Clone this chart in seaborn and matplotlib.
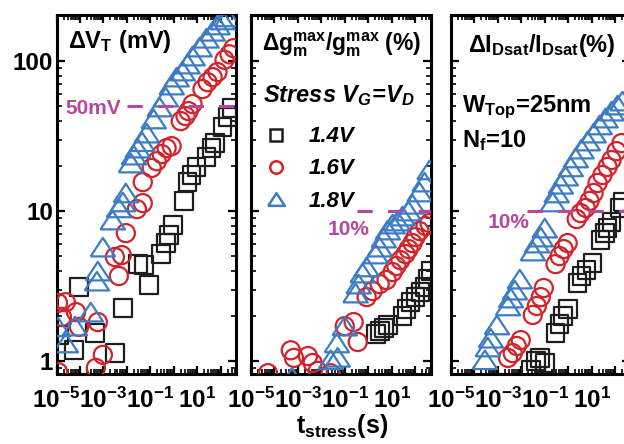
import numpy as np
import seaborn as sns
import matplotlib
matplotlib.use("Agg")
import matplotlib.pyplot as plt
from matplotlib.markers import MarkerStyle
from matplotlib.lines import Line2D
from matplotlib.ticker import FixedLocator, FuncFormatter, LogLocator, NullFormatter

# ---- data: stress time (s) and degradation ----
# panel 1: delta V_T (mV)
t_vt_14 = [1.3e-5, 5.6e-5, 9.1e-5, 4.3e-4, 3.1e-3, 6.8e-3, 0.029, 0.053, 0.086, 0.28, 0.46,
           0.61, 0.91, 2.7, 3.9, 5.8, 9.5, 25, 41, 56, 122, 199, 294]
vt_14 = [1.49, 1.18, 3.11, 1.54, 1.13, 2.26, 4.43, 4.37, 3.21, 5.17, 6.12,
         6.92, 8.07, 11.7, 15.6, 17.4, 19.7, 22.9, 26.3, 28.4, 36.3, 42.4, 48.6]
t_vt_16 = [1.16e-5, 1.71e-5, 1.16e-5, 2.5e-5, 6.8e-5, 9.1e-5, 5.8e-4, 4.8e-4, 9.5e-4, 4.6e-3,
           3.1e-3, 6.1e-3, 9.1e-3, 0.027, 0.048, 0.048, 0.116, 0.19, 0.31, 0.50, 0.82, 2.0,
           3.2, 4.3, 6.4, 17, 28, 46, 74, 148, 242, 357]
vt_16 = [2.44, 1.97, 0.845, 2.47, 2.12, 1.69, 1.82, 0.90, 1.10, 3.69,
         4.94, 5.09, 7.13, 10.3, 11.3, 15.6, 19.4, 21.5, 24.0, 26.3, 27.1, 39.8,
         43.0, 46.4, 51.7, 65.1, 72.4, 78.2, 84.5, 102, 111, 122]
t_vt_18 = [1.16e-5, 2.5e-5, 6.1e-5, 2.9e-4, 5.3e-4, 5.8e-4, 9.5e-4, 2.5e-3, 4.6e-3, 6.8e-3,
           9.1e-3, 0.015, 0.020, 0.029, 0.045, 0.071, 0.14, 0.25, 0.46, 0.82, 1.34, 2.4,
           3.9, 6.4, 12.8, 25, 46, 74, 122, 199]
vt_18 = [1.69, 1.32, 1.71, 2.12, 3.41, 3.98, 5.75, 8.71, 10.5, 11.5,
         13.2, 20.9, 23.6, 26.3, 29.0, 33.1, 41.1, 49.4, 57.5, 69.2, 78.2, 85.8,
         95.5, 108, 124, 142, 158, 174, 188, 197]

# panel 2: delta gm_max / gm_max (%)
t_gm_14 = [2.1, 3.1, 4.6, 6.8, 29, 43, 64, 105, 171, 254, 340, 457]
gm_14 = [1.51, 1.58, 1.66, 1.74, 2.0, 2.22, 2.47, 2.67, 2.88, 3.11, 3.52, 3.98]
t_gm_16 = [5.3e-5, 5.0e-4, 6.8e-4, 2.7e-3, 4.3e-3, 7.1e-3, 0.025, 0.10, 0.24, 0.36, 0.86,
           1.55, 3.1, 6.1, 11, 16, 24, 39, 53, 78, 105, 155, 280, 414]
gm_16 = [0.83, 1.18, 1.05, 1.08, 0.97, 0.86, 0.83, 1.71, 1.82, 1.34, 2.67,
         2.93, 3.26, 3.47, 3.92, 4.30, 4.71, 5.17, 5.58, 6.12, 6.71, 7.36, 7.94, 8.32]
t_gm_18 = [5.6e-4, 0.025, 0.050, 0.046, 0.10, 0.29, 0.39, 0.58, 0.86, 2.1, 3.1, 4.6,
           6.8, 11, 18, 29, 53, 78, 155, 254, 414]
gm_18 = [0.78, 1.02, 1.06, 1.32, 1.71, 2.84, 3.26, 3.86, 4.24, 5.17, 5.75, 6.61,
         7.47, 8.19, 8.58, 9.26, 10.0, 11.1, 13.4, 15.6, 18.8]

# panel 3: delta I_Dsat / I_Dsat (%)
t_id_14 = [0.025, 0.041, 0.061, 0.10, 0.29, 0.43, 0.58, 0.95, 2.5, 3.7, 6.1, 11,
           24, 36, 48, 71, 155, 208]
id_14 = [0.87, 1.0, 1.05, 0.97, 1.54, 1.76, 2.0, 2.22, 3.31, 3.69, 4.04, 4.50,
         6.41, 7.13, 7.70, 8.45, 10.5, 11.5]
t_id_16 = [2.7e-3, 4.3e-3, 6.4e-3, 9.5e-3, 0.031, 0.046, 0.068, 0.091, 0.29, 0.43, 0.64,
           0.95, 2.3, 3.4, 5.6, 8.2, 12.2, 18, 29, 48, 71, 116, 189]
id_16 = [1.05, 1.13, 1.26, 1.38, 2.03, 2.33, 2.67, 3.07, 4.43, 5.01, 5.58,
         6.12, 8.85, 9.70, 10.5, 11.7, 13.2, 15.4, 17.4, 19.7, 21.9, 25.1, 28.4]
t_id_18 = [2.8e-4, 3.7e-4, 5.0e-4, 9.1e-4, 2.7e-3, 3.6e-3, 5.3e-3, 8.6e-3, 0.031, 0.046,
           0.068, 0.10, 0.22, 0.32, 0.48, 0.78, 1.28, 2.1, 3.7, 6.8, 12.2, 22, 39, 71,
           128, 208]
id_18 = [1.02, 1.24, 1.42, 1.74, 2.33, 2.63, 2.97, 3.52, 5.41, 6.12,
         6.71, 7.70, 11.5, 13.2, 15.1, 17.1, 19.7, 22.6, 25.9, 29.3, 33.1, 37.5, 41.7, 46.4,
         50.9, 54.1]

stress_labels = ["1.4V", "1.6V", "1.8V"]
colors = ["#1e1e1e", "#d3232a", "#3c7cc4"]
criteria = [50, 10, 10]            # failure criteria lines
criteria_text = ["50mV", "10%", "10%"]
criteria_start = [0.01, 0.32, 0.017]

sns.set_style("ticks", {"axes.edgecolor": "black", "xtick.color": "black",
                        "ytick.color": "black", "text.color": "black"})
plt.rcParams["font.family"] = ["Liberation Sans", "DejaVu Sans"]
plt.rcParams["font.weight"] = "bold"
plt.rcParams["mathtext.default"] = "regular"
plt.rcParams["axes.linewidth"] = 2.2

tri = MarkerStyle([(-1, -0.76), (1, -0.76), (0, 0.76), (-1, -0.76)])
markers = ["s", "o", tri]
sizes = [165, 170, 310]
magenta = "#b5479c"

fig = plt.figure(figsize=(6.24, 4.44), dpi=100)
W, H = 624.0, 444.0
lefts = [56.5, 251, 451]
axes = [fig.add_axes([l / W, (H - 374) / H, 179.5 / W, 359 / H]) for l in lefts]

panels = [
    [(t_vt_14, vt_14), (t_vt_16, vt_16), (t_vt_18, vt_18)],
    [(t_gm_14, gm_14), (t_gm_16, gm_16), (t_gm_18, gm_18)],
    [(t_id_14, id_14), (t_id_16, id_16), (t_id_18, id_18)],
]


def xfmt(v, pos):
    e = int(round(np.log10(v)))
    return r"$\mathregular{10^{%d}}$" % e if e % 2 else ""


for i, ax in enumerate(axes):
    ax.set_xscale("log")
    ax.set_yscale("log")
    for (t, v), m, s, c in zip(panels[i], markers, sizes, colors):
        sns.scatterplot(x=t, y=v, marker=m, s=s, facecolor="none", edgecolor=c,
                        color=c, linewidth=1.6, ax=ax, legend=False, zorder=3)
    # failure criterion, drawn over the symbols like in the original
    ax.hlines(criteria[i], criteria_start[i], 10 ** 2.66, colors=magenta,
              linewidth=2.2, linestyles=(0, (5, 5)), zorder=4)
    ax.set_xlim(1e-5, 10 ** 2.66)
    ax.set_ylim(0.82, 203)
    ax.xaxis.set_major_locator(FixedLocator([10.0 ** k for k in range(-5, 3)]))
    ax.xaxis.set_minor_locator(LogLocator(base=10, subs=range(2, 10), numticks=40))
    ax.xaxis.set_major_formatter(FuncFormatter(xfmt))
    ax.xaxis.set_minor_formatter(NullFormatter())
    ax.yaxis.set_major_locator(FixedLocator([1, 10, 100]))
    ax.yaxis.set_minor_locator(LogLocator(base=10, subs=range(2, 10), numticks=40))
    ax.yaxis.set_major_formatter(FuncFormatter(lambda v, p: "%g" % v))
    ax.yaxis.set_minor_formatter(NullFormatter())
    ax.tick_params(which="both", direction="in", top=True, right=True)
    ax.tick_params(which="major", length=6, width=1.6, labelsize=17.5)
    ax.tick_params(which="minor", length=3.5, width=1.2)
    ax.tick_params(axis="x", pad=10)
    ax.tick_params(axis="y", pad=2.5, labelleft=(i == 0))
    ax.set_xlabel("")
    ax.set_ylabel("")

# panel titles and notes
axes[0].text(0.064, 0.908, r"Δ$V_T$ (mV)", transform=axes[0].transAxes, fontsize=17)
axes[1].text(0.061, 0.900, r"Δ$g_m^{max}/g_m^{max}$ (%)", transform=axes[1].transAxes,
             fontsize=16.5)
axes[2].text(0.095, 0.897, r"Δ$I_{Dsat}/I_{Dsat}$(%)", transform=axes[2].transAxes,
             fontsize=17)
axes[2].text(0.061, 0.730, r"$W_{Top}$=25nm", transform=axes[2].transAxes, fontsize=17)
axes[2].text(0.061, 0.632, r"$N_f$=10", transform=axes[2].transAxes, fontsize=17)

axes[0].text(0.047, 0.724, criteria_text[0], transform=axes[0].transAxes, fontsize=15,
             color=magenta)
axes[1].text(0.429, 0.387, criteria_text[1], transform=axes[1].transAxes, fontsize=15,
             color=magenta)
axes[2].text(0.206, 0.407, criteria_text[2], transform=axes[2].transAxes, fontsize=15,
             color=magenta)

# legend in the middle panel
axes[1].text(0.067, 0.758, r"Stress $V_G$=$V_D$", transform=axes[1].transAxes,
             fontsize=17, fontstyle="italic")
handles = [Line2D([], [], linestyle="none", marker=m, markersize=ms,
                  markerfacecolor="none", markeredgecolor=c, markeredgewidth=1.8)
           for m, ms, c in zip(markers, [8.5, 9, 12], colors)]
axes[1].legend(handles, stress_labels, loc="upper left", bbox_to_anchor=(0.067, 0.69),
               frameon=False, borderpad=0, borderaxespad=0, handlelength=1.15,
               handletextpad=0.9, labelspacing=0.5,
               prop=dict(size=16, weight="bold", style="italic"))

fig.text(342 / W, (H - 433) / H, r"$t_{stress}$(s)", ha="center", va="baseline",
         fontsize=18)

fig.savefig("out.png", dpi=100)
